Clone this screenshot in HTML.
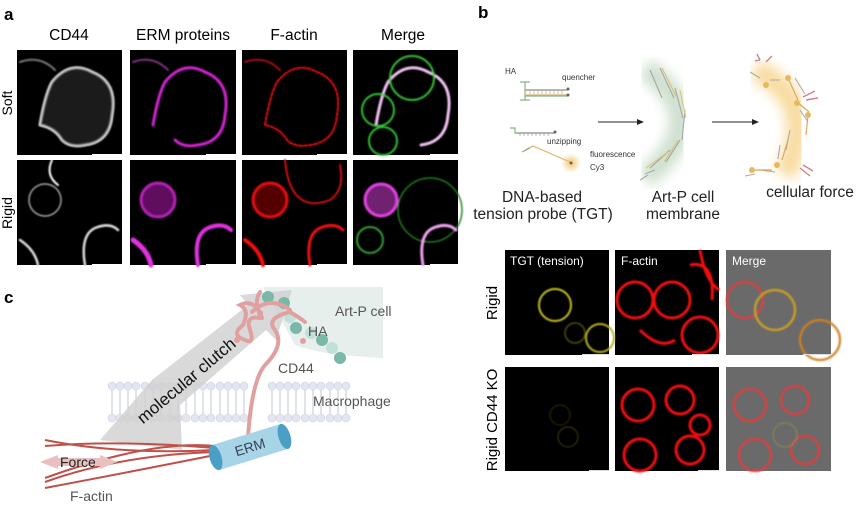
<!DOCTYPE html>
<html><head><meta charset="utf-8"><style>
html,body{margin:0;padding:0;background:#fff;}
svg{display:block;font-family:"Liberation Sans",sans-serif;}
</style></head><body>
<svg width="865" height="508" viewBox="0 0 865 508" xmlns="http://www.w3.org/2000/svg">
<defs>
<radialGradient id="gy" cx="50%" cy="50%" r="50%"><stop offset="0" stop-color="#f0c060" stop-opacity="0.9"/><stop offset="1" stop-color="#f0c060" stop-opacity="0"/></radialGradient>
<filter id="bl"><feGaussianBlur stdDeviation="6"/></filter>
<filter id="b1"><feGaussianBlur stdDeviation="0.8"/></filter>
</defs>
<!-- Panel a -->
<text x="4" y="20" font-size="17" font-weight="bold">a</text>
<g font-size="15.5" text-anchor="middle">
<text x="69" y="40">CD44</text><text x="183" y="40">ERM proteins</text><text x="294" y="40">F-actin</text><text x="403" y="40">Merge</text>
</g>
<text transform="translate(12,103) rotate(-90)" font-size="14" text-anchor="middle">Soft</text>
<text transform="translate(12,213) rotate(-90)" font-size="14" text-anchor="middle">Rigid</text>
<g>
<rect x="17" y="50" width="105" height="105" fill="#000"/>
<rect x="130" y="50" width="106" height="105" fill="#000"/>
<rect x="242" y="50" width="105" height="105" fill="#000"/>
<rect x="353" y="50" width="105" height="105" fill="#000"/>
<rect x="17" y="160" width="105" height="105" fill="#000"/>
<rect x="130" y="160" width="106" height="105" fill="#000"/>
<rect x="242" y="160" width="105" height="105" fill="#000"/>
<rect x="353" y="160" width="105" height="105" fill="#000"/>
</g>
<!-- soft row cells -->
<g fill="none" stroke-linecap="round" filter="url(#b1)">
<path d="M40 125 Q45 95 52 82 Q70 60 92 72 Q118 82 112 115 Q110 142 85 145 Q70 148 62 140 Q55 128 40 125" stroke="#ddd" stroke-width="3"/>
<path d="M40 125 Q45 95 52 82 Q70 60 92 72 Q118 82 112 115 Q110 142 85 145 Q70 148 62 140 Q55 128 40 125" fill="#444" fill-opacity="0.4" stroke="none"/>
<path d="M153 125 Q158 95 165 82 Q183 60 205 72 Q231 82 225 115 Q223 142 198 145 Q183 148 175 140" stroke="#d020d0" stroke-width="3"/>
<path d="M265 125 Q270 95 277 82 Q295 60 317 72 Q343 82 337 115 Q335 142 310 145 Q295 148 287 140 Q280 128 265 125" stroke="#e01010" stroke-width="2" stroke-dasharray="3 2"/>
<path d="M376 125 Q381 95 388 82 Q406 60 428 72 Q454 82 448 115 Q446 142 421 145" stroke="#f0c0f0" stroke-width="3"/>
<circle cx="378" cy="110" r="16" stroke="#30c030" stroke-width="2"/>
<circle cx="412" cy="78" r="22" stroke="#30c030" stroke-width="2"/>
<circle cx="383" cy="141" r="14" stroke="#30c030" stroke-width="2"/>
<path d="M20 62 Q40 55 55 70" stroke="#777" stroke-width="2"/>
<path d="M133 62 Q153 55 168 70" stroke="#803080" stroke-width="2"/>
<path d="M245 62 Q265 55 280 70" stroke="#a01010" stroke-width="2"/>
</g>
<!-- rigid row cells -->
<g fill="none" stroke-linecap="round" filter="url(#b1)">
<circle cx="45" cy="200" r="16" stroke="#aaa" stroke-width="1.5" stroke-dasharray="2 1"/>
<path d="M85 265 Q80 235 95 228 Q110 222 118 230" stroke="#ddd" stroke-width="2.5"/>
<path d="M52 160 Q45 175 58 185" stroke="#fff" stroke-width="2"/>
<path d="M20 240 Q35 250 38 265" stroke="#ddd" stroke-width="2.5"/>
<circle cx="158" cy="200" r="17" stroke="#b020b0" stroke-width="3" fill="#601060"/>
<path d="M198 265 Q193 235 208 228 Q223 222 231 230" stroke="#e030e0" stroke-width="4"/>
<path d="M133 240 Q148 250 151 265" stroke="#e030e0" stroke-width="5"/>
<circle cx="270" cy="200" r="17" stroke="#e01010" stroke-width="3" fill="#500"/>
<path d="M310 265 Q305 235 320 228 Q335 222 343 230" stroke="#f01010" stroke-width="3"/>
<path d="M245 240 Q260 250 263 265" stroke="#f01010" stroke-width="4"/>
<path d="M285 160 Q290 215 330 200 Q345 190 340 165" stroke="#d01010" stroke-width="2"/>
<circle cx="381" cy="200" r="16" stroke="#e040e0" stroke-width="3" fill="#702070"/>
<circle cx="430" cy="210" r="32" stroke="#208020" stroke-width="1.5"/>
<circle cx="370" cy="240" r="13" stroke="#30a030" stroke-width="2"/>
<path d="M423 265 Q418 235 433 228 Q448 222 456 230" stroke="#f0a0f0" stroke-width="3"/>
</g>
<g fill="#fff"><rect x="92" y="154" width="30" height="1"/><rect x="206" y="154" width="30" height="1"/><rect x="317" y="154" width="30" height="1"/><rect x="430" y="154" width="28" height="1"/>
<rect x="92" y="264" width="30" height="1"/><rect x="206" y="264" width="30" height="1"/><rect x="317" y="264" width="30" height="1"/><rect x="430" y="264" width="28" height="1"/></g>

<!-- Panel b -->
<text x="478" y="18" font-size="17" font-weight="bold">b</text>
<g font-size="8" fill="#333">
<text x="505" y="74">HA</text><text x="562" y="80">quencher</text>
<text x="547" y="144">unzipping</text><text x="590" y="157">fluorescence</text><text x="590" y="170">Cy3</text>
</g>
<!-- probe -->
<g stroke-width="1.2" fill="none">
<path d="M520 82 H530 M525 82 V90 H565" stroke="#8bb08b"/>
<path d="M525 90 V96 H568" stroke="#8bb08b"/>
<path d="M520 100 H530 M525 96 V100" stroke="#8bb08b"/>
<path d="M526 90 H568" stroke="#999"/>
<path d="M526 95 H568" stroke="#e0b060"/>
<path d="M530 90 v4 M534 90 v4 M538 90 v4 M542 90 v4 M546 90 v4 M550 90 v4 M554 90 v4 M558 90 v4 M562 90 v4" stroke="#aaa" stroke-width="0.7"/>
<path d="M510 128 H515 V133 H555" stroke="#8bb08b"/><path d="M516 133 H555" stroke="#999"/>
<path d="M520 133 v3 M524 133 v3 M528 133 v3 M532 133 v3 M536 133 v3 M540 133 v3 M544 133 v3 M548 133 v3" stroke="#999" stroke-width="0.7"/>
<path d="M525 150 L533 146 L570 162" stroke="#e0b060"/><path d="M522 152 L530 148" stroke="#8bb08b"/>
</g>
<circle cx="571" cy="163" r="10" fill="url(#gy)"/>
<circle cx="571" cy="163" r="1.5" fill="#666"/><circle cx="568" cy="89" r="1.5" fill="#666"/><circle cx="568" cy="95" r="1.5" fill="#666"/><circle cx="555" cy="132" r="1.5" fill="#666"/>
<!-- arrows -->
<g stroke="#222" stroke-width="1"><line x1="598" y1="122" x2="640" y2="122"/><line x1="712" y1="122" x2="755" y2="122"/></g>
<path d="M644 122 L637 119 L637 125Z M759 122 L752 119 L752 125Z" fill="#222"/>
<!-- membrane arc -->
<path d="M645 68 Q715 120 645 178" stroke="#cfe0cf" stroke-width="22" fill="none" filter="url(#bl)"/>
<g stroke="#aaa" stroke-width="1.2" fill="none">
<path d="M650 70 l12 28 M660 68 l14 30 M675 88 l8 30 M685 110 l-3 30 M680 140 l-14 22 M670 150 l-20 18 M655 170 l-10 4 M648 175 l-8 5"/>
</g>
<g stroke="#e0c070" stroke-width="1" fill="none"><path d="M662 68 l14 28 M680 90 l6 28 M678 140 l-14 22 M668 152 l-22 16"/></g>
<!-- cellular force -->
<path d="M755 70 Q820 100 785 175" stroke="#f8dca0" stroke-width="22" fill="none" filter="url(#bl)"/>
<g stroke="#aaa" stroke-width="1.1" fill="none"><path d="M750 72 l10 6 M770 80 l10 0 M795 78 l10 16 M800 110 l8 12 M790 130 l-4 20 M780 145 l-2 14 M760 170 l15 2 M745 176 l10 -2"/></g>
<g stroke="#d8a858" stroke-width="1.2" fill="none"><path d="M788 78 l10 22 M797 102 l12 10 M808 115 l-2 20 M782 160 l6 -20 M752 170 l20 0"/></g>
<g fill="#e8b860"><circle cx="766" cy="85" r="3"/><circle cx="788" cy="78" r="3"/><circle cx="797" cy="103" r="3"/><circle cx="808" cy="115" r="3"/><circle cx="777" cy="165" r="3"/><circle cx="752" cy="170" r="3"/></g>
<g stroke="#d08090" stroke-width="1.4" fill="none"><path d="M760 60 l-3 -6 M760 60 l-5 1 M766 62 l6 -6 M803 97 l12 -6 M806 100 l12 -2 M803 165 l10 6 M800 168 l10 8"/></g>
<g font-size="15.5" text-anchor="middle" fill="#222">
<text x="542" y="202">DNA-based</text><text x="543" y="219">tension probe (TGT)</text>
<text x="683" y="202">Art-P cell</text><text x="683" y="219">membrane</text>
<text x="810" y="197">cellular force</text>
</g>
<!-- b images -->
<rect x="505" y="250" width="104" height="105" fill="#000"/>
<rect x="615" y="250" width="104" height="105" fill="#000"/>
<rect x="726" y="250" width="105" height="105" fill="#6a6a6a"/>
<rect x="505" y="367" width="104" height="104" fill="#000"/>
<rect x="615" y="367" width="104" height="104" fill="#000"/>
<rect x="726" y="367" width="105" height="104" fill="#6a6a6a"/>
<g fill="none" filter="url(#b1)">
<circle cx="555" cy="305" r="16" stroke="#c8c020" stroke-width="2"/>
<circle cx="575" cy="333" r="10" stroke="#505010" stroke-width="1.5"/>
<circle cx="600" cy="338" r="14" stroke="#b8b020" stroke-width="2"/>
<circle cx="560" cy="415" r="10" stroke="#303008" stroke-width="1"/>
<circle cx="568" cy="437" r="10" stroke="#404010" stroke-width="1"/>
<g stroke="#f01010" stroke-width="3">
<circle cx="635" cy="300" r="18"/><circle cx="672" cy="300" r="18"/><circle cx="700" cy="335" r="18"/>
<path d="M690 265 Q715 260 712 300 M640 330 Q660 350 675 340 M700 250 Q705 280 719 290"/>
<circle cx="638" cy="405" r="16"/><circle cx="680" cy="400" r="14"/><circle cx="640" cy="455" r="16"/><circle cx="690" cy="450" r="14"/><circle cx="700" cy="425" r="10"/>
</g>
<g stroke="#e04040" stroke-width="2.5" opacity="0.9">
<circle cx="745" cy="300" r="18"/><circle cx="775" cy="310" r="20" stroke="#d0a020"/><circle cx="820" cy="340" r="20" stroke="#d08020"/>
<circle cx="750" cy="405" r="16"/><circle cx="795" cy="400" r="14"/><circle cx="755" cy="455" r="16"/><circle cx="805" cy="450" r="14"/><circle cx="785" cy="435" r="12" stroke="#909050" stroke-width="1"/>
</g>
</g>
<g font-size="12" fill="#fff"><text x="510" y="265">TGT (tension)</text><text x="621" y="265">F-actin</text><text x="732" y="265">Merge</text></g>
<text transform="translate(497,303) rotate(-90)" font-size="15" text-anchor="middle">Rigid</text>
<text transform="translate(497,420) rotate(-90)" font-size="15" text-anchor="middle">Rigid CD44 KO</text>
<g fill="#ddd"><rect x="582" y="354" width="27" height="1"/><rect x="692" y="354" width="27" height="1"/><rect x="803" y="354" width="28" height="1"/><rect x="589" y="470" width="20" height="1"/><rect x="698" y="470" width="21" height="1"/></g>

<!-- Panel c -->
<text x="4" y="303" font-size="17" font-weight="bold">c</text>
<path d="M263 287 H383 V358 Q320 355 295 345 Z" fill="#e6efec"/>
<!-- membrane -->
<g stroke="#d0d4dc" stroke-width="1.3">
<path d="M112 386 V418 M120 386 V418 M128 386 V418 M136 386 V418 M145 386 V418 M153 386 V418 M161 386 V418 M170 386 V418 M178 386 V418 M186 386 V418 M195 386 V418 M203 386 V418 M211 386 V418 M220 386 V418 M228 386 V418 M236 386 V418 M244 386 V418"/>
<path d="M272 386 V418 M280 386 V418 M288 386 V418 M296 386 V418 M305 386 V418 M313 386 V418 M321 386 V418 M330 386 V418 M338 386 V418 M346 386 V418"/>
</g>
<g fill="#e3e6f0" stroke="#cdd2e0" stroke-width="0.6">
<circle cx="112" cy="386" r="4"/><circle cx="120" cy="386" r="4"/><circle cx="128" cy="386" r="4"/><circle cx="136" cy="386" r="4"/><circle cx="145" cy="386" r="4"/><circle cx="153" cy="386" r="4"/><circle cx="161" cy="386" r="4"/><circle cx="170" cy="386" r="4"/><circle cx="178" cy="386" r="4"/><circle cx="186" cy="386" r="4"/><circle cx="195" cy="386" r="4"/><circle cx="203" cy="386" r="4"/><circle cx="211" cy="386" r="4"/><circle cx="220" cy="386" r="4"/><circle cx="228" cy="386" r="4"/><circle cx="236" cy="386" r="4"/><circle cx="244" cy="386" r="4"/>
<circle cx="112" cy="418" r="4"/><circle cx="120" cy="418" r="4"/><circle cx="128" cy="418" r="4"/><circle cx="136" cy="418" r="4"/><circle cx="145" cy="418" r="4"/><circle cx="153" cy="418" r="4"/><circle cx="161" cy="418" r="4"/><circle cx="170" cy="418" r="4"/><circle cx="178" cy="418" r="4"/><circle cx="186" cy="418" r="4"/><circle cx="195" cy="418" r="4"/><circle cx="203" cy="418" r="4"/><circle cx="211" cy="418" r="4"/><circle cx="220" cy="418" r="4"/><circle cx="228" cy="418" r="4"/><circle cx="236" cy="418" r="4"/><circle cx="244" cy="418" r="4"/>
<circle cx="272" cy="386" r="4"/><circle cx="280" cy="386" r="4"/><circle cx="288" cy="386" r="4"/><circle cx="296" cy="386" r="4"/><circle cx="305" cy="386" r="4"/><circle cx="313" cy="386" r="4"/><circle cx="321" cy="386" r="4"/><circle cx="330" cy="386" r="4"/><circle cx="338" cy="386" r="4"/><circle cx="346" cy="386" r="4"/>
<circle cx="272" cy="418" r="4"/><circle cx="280" cy="418" r="4"/><circle cx="288" cy="418" r="4"/><circle cx="296" cy="418" r="4"/><circle cx="305" cy="418" r="4"/><circle cx="313" cy="418" r="4"/><circle cx="321" cy="418" r="4"/><circle cx="330" cy="418" r="4"/><circle cx="338" cy="418" r="4"/><circle cx="346" cy="418" r="4"/>
</g>
<!-- big gray arrow -->
<path d="M100 440 L152 380 L248 305 L240 295 L292 290 L276 340 L266 330 L180 405 L182 450 Z" fill="#cfcfcf" opacity="0.8"/>
<text transform="translate(190,385) rotate(-40)" font-size="17" text-anchor="middle" fill="#111">molecular clutch</text>
<!-- HA hexagons -->
<g fill="#7ab8a8"><circle cx="268" cy="297" r="6"/><circle cx="284" cy="303" r="6"/><circle cx="296" cy="328" r="6"/><circle cx="322" cy="340" r="6"/><circle cx="340" cy="358" r="6"/></g>
<g fill="#c0e0d8"><circle cx="290" cy="317" r="6"/><circle cx="311" cy="333" r="6"/><circle cx="332" cy="348" r="6"/></g>
<!-- CD44 -->
<g fill="none" stroke="#e0a0a0" stroke-width="4" stroke-linecap="round">
<path d="M248 437 Q252 380 265 365 Q285 345 275 330 Q265 318 290 312 Q300 318 305 322"/>
<path d="M260 318 Q245 315 250 330 Q255 345 245 340 Q230 335 243 325 Q250 310 240 305 Q255 298 262 318 M252 312 Q270 295 290 310"/>
<path d="M258 310 Q255 300 260 292"/>
</g>
<g fill="#e0a0a0"><circle cx="260" cy="313" r="3"/><circle cx="237" cy="340" r="3"/><circle cx="303" cy="341" r="3"/></g>
<!-- F-actin -->
<g fill="none" stroke="#c0504a" stroke-width="2">
<path d="M45 440 Q120 455 215 450 M45 446 Q120 440 215 448"/>
<path d="M45 482 Q120 455 215 452 M45 488 Q140 470 215 455 M45 478 Q150 440 215 446"/>
</g>
<!-- Force arrow -->
<path d="M40 462 L58 455 L58 458 L100 458 L100 455 L117 462 L100 469 L100 466 L58 466 L58 469 Z" fill="#e8c0c0"/>
<text x="60" y="467" font-size="14" fill="#222">Force</text>
<!-- ERM -->
<g transform="translate(250,447) rotate(-17)">
<rect x="-36" y="-13" width="72" height="26" fill="#a8d4e8"/>
<ellipse cx="-36" cy="0" rx="6" ry="13" fill="#4aa0c4"/>
<ellipse cx="36" cy="0" rx="6" ry="13" fill="#4aa0c4"/>
<text x="0" y="5" font-size="14" text-anchor="middle" fill="#345">ERM</text>
</g>
<g font-size="14" fill="#555">
<text x="335" y="316">Art-P cell</text><text x="308" y="336">HA</text><text x="278" y="373">CD44</text><text x="313" y="406">Macrophage</text><text x="70" y="501">F-actin</text>
</g>
</svg>
</body></html>
